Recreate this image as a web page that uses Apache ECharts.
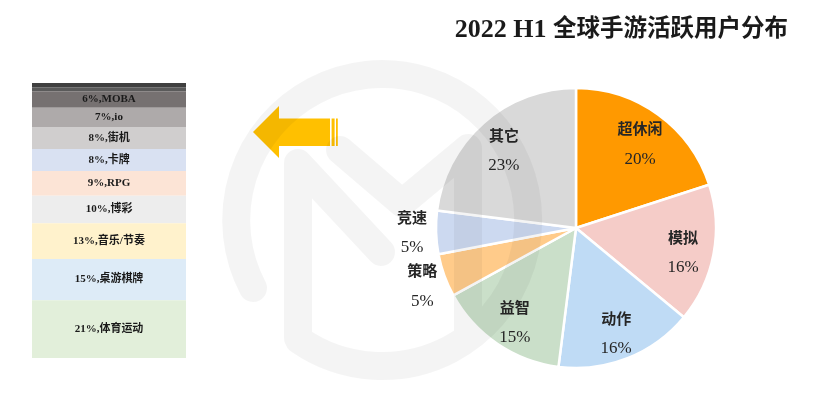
<!DOCTYPE html>
<html>
<head>
<meta charset="utf-8">
<script src="https://cdn.jsdelivr.net/npm/echarts@6/dist/echarts.min.js"></script>
<style>html,body{margin:0;padding:0;background:#fff}#c{width:815px;height:396px}</style>
</head>
<body>
<div id="c"></div>
<script>
// ---- data ----
const titleLatin = '2022 H1 ';
const titleCjk = '全球手游活跃用户分布';
const pieNames = ['超休闲', '模拟', '动作', '益智', '策略', '竞速', '其它'];
const pieValues = [20, 16, 16, 15, 5, 5, 23];
const sideNames = ['', '', 'MOBA', 'io', '街机', '卡牌', 'RPG', '博彩', '音乐/节奏', '桌游棋牌', '体育运动'];
const sideValues = [1.5, 1.5, 6, 7, 8, 8, 9, 10, 13, 15, 21];

// ---- styles ----
const pieColors = ['#FF9900', '#F5CCC8', '#BFDBF5', '#CADFC9', '#FFCB8A', '#CCD9F0', '#D9D9D9'];
const sideColors = ['#404040', '#5A5A5A', '#767171', '#AEAAAA', '#D0CECE', '#D9E1F2', '#FCE4D6', '#EDEDED', '#FFF2CC', '#DDEBF7', '#E2EFDA'];
const FONT = '"Liberation Serif", "DejaVu Serif", "Noto Sans CJK SC", serif';
const watermarkPath = 'M253,288 A146,146 0 1 1 299,340 M298,338 L298,163 L381,252 M340,150 L402,203 L468,148 L468,332';

const chart = echarts.init(document.getElementById('c'), null, {renderer: 'canvas'});

const sideTotal = sideValues.reduce((a, b) => a + b, 0);
const sideSeries = sideNames.map((n, i) => ({
  type: 'bar', stack: 'side', name: 'side' + i,
  xAxisIndex: 0, yAxisIndex: 0,
  data: [sideValues[i]],
  barWidth: '100%',
  itemStyle: {color: sideColors[i]},
  silent: true,
  label: {
    show: n !== '',
    position: 'inside',
    formatter: () => sideValues[i] + '%,' + n,
    fontFamily: FONT, fontSize: 11, fontWeight: 'bold', color: '#1a1a1a'
  }
}));

const pieData = pieNames.map((n, i) => ({name: n, value: pieValues[i], itemStyle: {color: pieColors[i]}}));
const richLabel = {
  n: {fontFamily: FONT, fontSize: 15, fontWeight: 'bold', color: '#262626', lineHeight: 29},
  p: {fontFamily: FONT, fontSize: 17, color: '#262626', lineHeight: 29}
};
const labelFmt = p => '{n|' + p.name + '}\n{p|' + p.value + '%}';
const isSmall = v => v <= 5;

function labelSeries(radius, wantSmall, offset) {
  return {
    type: 'pie', center: [576, 228], radius: radius, startAngle: 90, clockwise: true,
    silent: true, z: 5,
    emphasis: {disabled: true},
    itemStyle: {color: 'rgba(0,0,0,0)', borderWidth: 0},
    labelLine: {show: false},
    data: pieNames.map((n, i) => ({
      name: n, value: pieValues[i],
      label: {show: isSmall(pieValues[i]) === wantSmall}
    })),
    label: {position: 'inside', formatter: labelFmt, rich: richLabel, color: '#262626', offset: offset}
  };
}

const option = {
  animation: false,
  backgroundColor: '#ffffff',
  textStyle: {fontFamily: FONT},
  title: {
    text: '{a|' + titleLatin + '}{b|' + titleCjk + '}', right: 22, top: 12,
    textStyle: {
      rich: {
        a: {fontFamily: FONT, fontSize: 26, fontWeight: 'bold', color: '#1a1a1a'},
        b: {fontFamily: FONT, fontSize: 23.5, fontWeight: 'bold', color: '#1a1a1a'}
      }
    }
  },
  grid: {left: 32, top: 83, width: 154, height: 275},
  xAxis: {type: 'category', data: ['a'], show: false},
  yAxis: {type: 'value', min: 0, max: sideTotal, inverse: true, show: false},
  graphic: [
    {
      type: 'polygon', z: 1, silent: true,
      shape: {points: [[253, 132], [279, 106], [279, 118.5], [330, 118.5], [330, 146], [279, 146], [279, 158]]},
      style: {fill: '#FFC000'}
    },
    {type: 'rect', z: 1, silent: true, shape: {x: 331.6, y: 118.5, width: 3, height: 27.5}, style: {fill: '#FFC000'}},
    {type: 'rect', z: 1, silent: true, shape: {x: 336, y: 118.5, width: 1.8, height: 27.5}, style: {fill: '#FFC000'}}
  ],
  series: sideSeries.concat([
    {
      type: 'pie', center: [576, 228], radius: 140, startAngle: 90, clockwise: true,
      silent: true, z: 2,
      emphasis: {disabled: true},
      itemStyle: {borderColor: '#ffffff', borderWidth: 2.5},
      label: {show: false}, labelLine: {show: false},
      data: pieData
    },
    labelSeries([94, 118], false, [0, 5]),
    labelSeries([156, 184], true, [9, 0]),
    {
      type: 'custom', coordinateSystem: 'none', silent: true, z: 100,
      data: [0],
      renderItem: () => ({
        type: 'path',
        shape: {pathData: watermarkPath},
        style: {fill: 'none', stroke: 'rgba(0,0,0,0.045)', lineWidth: 28, lineCap: 'round', lineJoin: 'round'}
      })
    }
  ])
};
chart.setOption(option);
</script>
</body>
</html>
